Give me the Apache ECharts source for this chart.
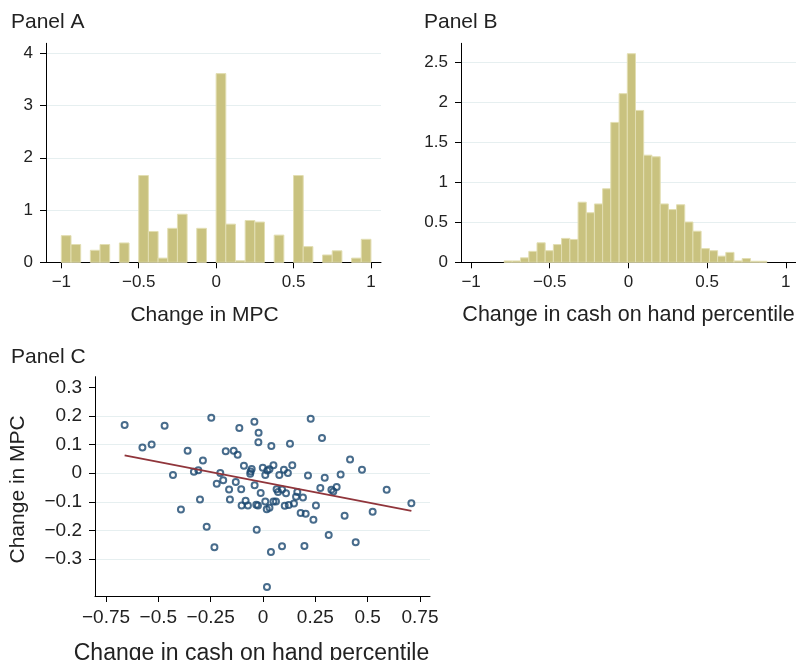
<!DOCTYPE html>
<html>
<head>
<meta charset="utf-8">
<script src="https://cdn.jsdelivr.net/npm/echarts@6/dist/echarts.min.js"></script>
<style>
  html, body { margin: 0; padding: 0; background: #fff; }
  #chart { width: 796px; height: 660px; }
</style>
</head>
<body>
<div id="chart"></div>
<script>
// Panel A: histogram of change in MPC (density, bins of 1/16)
const mpcBinEdges = [-1, -0.9375, -0.875, -0.8125, -0.75, -0.6875, -0.625, -0.5625, -0.5, -0.4375, -0.375, -0.3125,
	-0.25, -0.1875, -0.125, -0.0625, 0, 0.0625, 0.125, 0.1875, 0.25, 0.3125, 0.375, 0.4375, 0.5, 0.5625, 0.625,
	0.6875, 0.75, 0.8125, 0.875, 0.9375, 1];
const mpcDensity = [0.51, 0.34, 0, 0.23, 0.34, 0, 0.37, 0, 1.66, 0.59, 0.08, 0.65, 0.92, 0, 0.65, 0,
	3.61, 0.73, 0.03, 0.80, 0.77, 0, 0.52, 0, 1.66, 0.30, 0, 0.14, 0.22, 0, 0.08, 0.44];

// Panel B: histogram of change in cash on hand percentile
const cashBinEdges = [-0.790, -0.738, -0.686, -0.633, -0.581, -0.529, -0.477, -0.425, -0.372, -0.320, -0.268,
	-0.216, -0.164, -0.112, -0.059, -0.007, 0.045, 0.097, 0.149, 0.202, 0.254, 0.306, 0.358, 0.410, 0.462,
	0.515, 0.567, 0.619, 0.671, 0.723, 0.776, 0.828, 0.880];
const cashDensity = [0.017, 0.017, 0.056, 0.137, 0.244, 0.145, 0.222, 0.299, 0.286, 0.752, 0.62, 0.73, 0.92,
	1.75, 2.11, 2.61, 1.90, 1.34, 1.32, 0.73, 0.66, 0.72, 0.504, 0.389, 0.171, 0.145, 0.077, 0.124, 0.017,
	0.047, 0.013, 0.013];

// Panel C: scatter of both changes, with linear fit
const cashChange = [-0.661, -0.470, -0.247, -0.041, -0.113, -0.021, -0.022, -0.576, -0.532, -0.360, -0.178,
	-0.140, -0.121, -0.287, -0.430, -0.330, -0.309, -0.204, -0.091, -0.054, -0.059, -0.061, -0.190, -0.221,
	-0.130, -0.040, -0.162, -0.104,
	0.228, 0.282, 0.040, 0.129, 0.416, 0.473, -0.001, 0.011, 0.021, 0.031, 0.050, 0.078, 0.100, 0.119, 0.140,
	0.215, 0.295, 0.371,
	-0.011, -0.301, -0.392, -0.158, -0.083, -0.102, -0.072, -0.032, -0.024, -0.269, -0.030, -0.232,
	0.065, 0.072, 0.091, 0.110, 0.164, 0.158, 0.191, 0.274, 0.327, 0.336, 0.352, 0.591, 0.011, 0.018, 0.031,
	0.050, 0.062, 0.104, 0.123, 0.148, 0.180, 0.204, 0.253, 0.241, 0.390, 0.524, 0.709, 0.314, 0.443, 0.091,
	0.198, 0.038, 0.019];
const mpcChange = [0.168, 0.166, 0.194, 0.180, 0.158, 0.141, 0.108, 0.090, 0.100, 0.078, 0.077,
	0.078, 0.064, 0.044, -0.006, 0.005, 0.010, 0.001, 0.026, 0.015, 0.006, -0.002, -0.025, -0.037,
	-0.031, -0.042, -0.057, -0.056,
	0.190, 0.123, 0.095, 0.103, 0.048, 0.012, 0.019, -0.006, 0.009, 0.014, 0.028, -0.006, 0.012, 0.001, 0.028,
	-0.008, -0.016, -0.005,
	-0.069, -0.092, -0.127, -0.092, -0.096, -0.113, -0.113, -0.110, -0.113, -0.187, -0.198, -0.259,
	-0.056, -0.066, -0.057, -0.070, -0.066, -0.082, -0.085, -0.052, -0.058, -0.064, -0.048, -0.058, -0.099,
	-0.126, -0.121, -0.099, -0.099, -0.114, -0.111, -0.106, -0.139, -0.142, -0.113, -0.163, -0.149, -0.135,
	-0.105, -0.216, -0.241, -0.255, -0.254, -0.275, -0.398];
const fitX = [-0.661, 0.709];
const fitY = [0.062, -0.132];

// tick labels
const ticksHistX = [-1, -0.5, 0, 0.5, 1];
const ticksMpcY = [0, 1, 2, 3, 4];
const ticksCashY = [0, 0.5, 1, 1.5, 2, 2.5];
const ticksScatterX = [-0.75, -0.5, -0.25, 0, 0.25, 0.5, 0.75];
const ticksScatterY = [-0.3, -0.2, -0.1, 0, 0.1, 0.2, 0.3];
const gridScatterY = [-0.3, -0.2, -0.1, 0, 0.1, 0.2];

const FONT = 'Liberation Sans';
const TXT = '#222';
const GRID = '#e6eff0';

const fmt = v => (v < 0 ? '\u2212' + Math.abs(v) : String(v));

const binRows = (edges, dens) => dens.map((d, i) => [edges[i], edges[i + 1], d]);

const renderBar = (params, api) => {
	const h = api.value(2);
	if (!h) return null;
	const p0 = api.coord([api.value(0), h]);
	const p1 = api.coord([api.value(1), 0]);
	return {
		type: 'rect',
		shape: { x: p0[0], y: p0[1], width: p1[0] - p0[0], height: p1[1] - p0[1] },
		style: { fill: '#c9c27f', stroke: '#e2deb2', lineWidth: 1 }
	};
};

const xAxisBase = (gridIndex, min, max, ticks, size, name, gap, nameSize, shift) => ({
	type: 'value', gridIndex, min, max,
	name, nameLocation: 'middle', nameGap: gap,
	nameTextStyle: { fontFamily: FONT, fontSize: nameSize, color: TXT, padding: [0, shift, 0, 0] },
	axisLine: { show: true, onZero: false, lineStyle: { color: '#000', width: 1 } },
	axisTick: { show: true, length: 6, customValues: ticks, lineStyle: { color: '#000' } },
	axisLabel: { customValues: ticks, formatter: fmt, margin: 12, fontFamily: FONT, fontSize: size, color: TXT },
	splitLine: { show: false }
});

const yAxisBase = (gridIndex, min, max, ticks, size, grid) => ({
	type: 'value', gridIndex, min, max,
	axisLine: { show: true, onZero: false, lineStyle: { color: '#000', width: 1 } },
	axisTick: { show: true, length: 6, customValues: ticks, lineStyle: { color: '#000' } },
	axisLabel: { customValues: ticks, formatter: fmt, margin: 13, fontFamily: FONT, fontSize: size, color: TXT },
	splitLine: { show: grid, lineStyle: { color: GRID, width: 1.2 } }
});

const chart = echarts.init(document.getElementById('chart'), null, { renderer: 'canvas' });

const gridOnlyY = Object.assign(yAxisBase(2, -0.429, 0.337, gridScatterY, 19, true), {
	axisLine: { show: false }, axisTick: { show: false, customValues: gridScatterY },
	axisLabel: { show: false, customValues: gridScatterY }
});

const titleStyle = { fontFamily: FONT, fontSize: 21, fontWeight: 'normal', color: TXT };

const option = {
	animation: false,
	backgroundColor: '#fff',
	textStyle: { fontFamily: FONT },
	title: [
		{ text: 'Panel A', left: 11, top: 12, padding: 0, textStyle: titleStyle },
		{ text: 'Panel B', left: 424, top: 12, padding: 0, textStyle: titleStyle },
		{ text: 'Panel C', left: 11, top: 347, padding: 0, textStyle: titleStyle }
	],
	grid: [
		{ left: 46, top: 43.3, width: 335, height: 219, outerBoundsMode: 'none', containLabel: false },
		{ left: 461, top: 43.3, width: 335, height: 219, outerBoundsMode: 'none', containLabel: false },
		{ left: 95, top: 376.7, width: 335, height: 219.3, outerBoundsMode: 'none', containLabel: false }
	],
	xAxis: [
		xAxisBase(0, -1.099, 1.065, ticksHistX, 17, 'Change in MPC', 42, 21, 18),
		xAxisBase(1, -1.064, 1.065, ticksHistX, 17, 'Change in cash on hand percentile', 42, 21.5, 0),
		xAxisBase(2, -0.8026, 0.798, ticksScatterX, 19, 'Change in cash on hand percentile', 46, 23, 22)
	],
	yAxis: [
		yAxisBase(0, 0, 4.19, ticksMpcY, 17, true),
		yAxisBase(1, 0, 2.74, ticksCashY, 17, true),
		Object.assign(yAxisBase(2, -0.429, 0.337, ticksScatterY, 19, false), {
			name: 'Change in MPC', nameLocation: 'middle', nameGap: 66, nameRotate: 90,
			nameTextStyle: { fontFamily: FONT, fontSize: 21, color: TXT, padding: [0, 6, 0, 0] }
		}),
		gridOnlyY
	],
	series: [
		{
			type: 'custom', xAxisIndex: 0, yAxisIndex: 0,
			renderItem: renderBar, encode: { x: [0, 1], y: 2 },
			data: binRows(mpcBinEdges, mpcDensity), silent: true
		},
		{
			type: 'custom', xAxisIndex: 1, yAxisIndex: 1,
			renderItem: renderBar, encode: { x: [0, 1], y: 2 },
			data: binRows(cashBinEdges, cashDensity), silent: true
		},
		{
			type: 'scatter', xAxisIndex: 2, yAxisIndex: 2,
			symbol: 'circle', symbolSize: 6,
			itemStyle: { color: 'rgba(255,255,255,0)', borderColor: '#1a476f', borderWidth: 2 },
			data: cashChange.map((x, i) => [x, mpcChange[i]]),
			z: 3, silent: true
		},
		{
			type: 'line', xAxisIndex: 2, yAxisIndex: 2,
			data: fitX.map((x, i) => [x, fitY[i]]),
			showSymbol: false, symbol: 'none',
			lineStyle: { color: '#90353b', width: 1.8 },
			z: 4, silent: true
		}
	]
};

chart.setOption(option);
</script>
</body>
</html>
